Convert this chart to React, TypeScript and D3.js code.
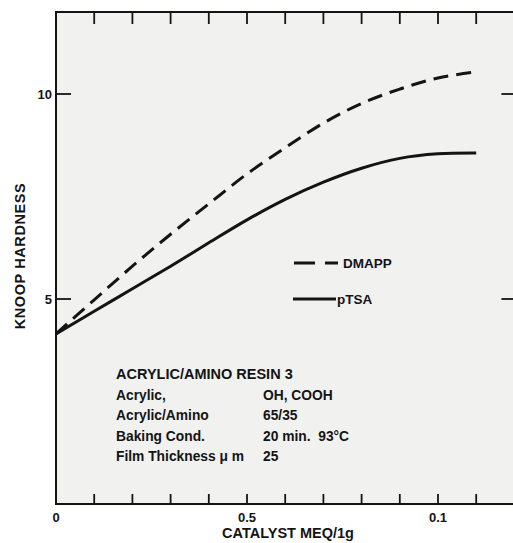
import React from "react";
import * as d3 from "d3";

// Catalyst level (MEQ/1g) and Knoop hardness for the two catalysts
const catalyst = [0, 0.01, 0.02, 0.03, 0.04, 0.05, 0.06, 0.07, 0.08, 0.09, 0.1, 0.11];
const dmapp = [4.15, 4.98, 5.8, 6.58, 7.32, 8.05, 8.69, 9.29, 9.77, 10.12, 10.39, 10.54];
const ptsa = [4.15, 4.7, 5.25, 5.8, 6.37, 6.93, 7.43, 7.85, 8.19, 8.43, 8.54, 8.56];

const xMinorTicks = [0.01, 0.02, 0.03, 0.04, 0.06, 0.07, 0.08, 0.09, 0.11];
const xLabelTicks = [0, 0.05, 0.1];
const xLabelText = ["0", "0.5", "0.1"];
const yTicks = [5, 10];

const infoLeft = ["Acrylic,", "Acrylic/Amino", "Baking Cond.", "Film Thickness \u03bc m"];
const infoRight = ["OH, COOH", "65/35", "20 min.  93\u00b0C", "25"];

const W = 513;
const H = 543;
const FONT = "'Liberation Sans', Arial, Helvetica, sans-serif";
const INK = "#141414";

export default function App() {
  const x = d3.scaleLinear().domain([0, 0.12]).range([56, 514.4]);
  const y = d3.scaleLinear().domain([0, 12]).range([504, 12]);

  const line = d3
    .line<[number, number]>()
    .x((d) => x(d[0]))
    .y((d) => y(d[1]))
    .curve(d3.curveCatmullRom.alpha(0.5));

  const dmappPath = line(catalyst.map((c, i) => [c, dmapp[i]]) as [number, number][]) || "";
  const ptsaPath = line(catalyst.map((c, i) => [c, ptsa[i]]) as [number, number][]) || "";

  const [x0, x1] = x.range();
  const [yb, yt] = y.range();
  const allXTicks = [...xMinorTicks, ...xLabelTicks.filter((t) => t > 0)];

  return (
    <svg
      width={W}
      height={H}
      style={{ position: "absolute", left: 0, top: 0, background: "#ffffff" }}
      fontFamily={FONT}
    >
      <rect x={x0} y={yt} width={x1 - x0} height={yb - yt} fill="#f1f1f0" />

      {/* ticks on all four sides, pointing inward */}
      {allXTicks.map((t) => (
        <g key={"xt" + t} stroke={INK} strokeWidth={1.8}>
          <line x1={x(t)} x2={x(t)} y1={yb} y2={yb - 10} />
          <line x1={x(t)} x2={x(t)} y1={yt} y2={yt + 12} />
        </g>
      ))}
      {yTicks.map((t) => (
        <g key={"yt" + t} stroke={INK} strokeWidth={1.8}>
          <line x1={x0} x2={x0 + 15} y1={y(t)} y2={y(t)} />
          <line x1={x1} x2={x1 - 13} y1={y(t)} y2={y(t)} />
        </g>
      ))}

      <rect x={x0} y={yt} width={x1 - x0} height={yb - yt} fill="none" stroke={INK} strokeWidth={2} />

      {/* tick labels */}
      {xLabelTicks.map((t, i) => (
        <text
          key={"xl" + t}
          x={x(t)}
          y={522}
          textAnchor="middle"
          fontSize={13}
          fontWeight="bold"
          fill={INK}
        >
          {xLabelText[i]}
        </text>
      ))}
      {yTicks.map((t) => (
        <text
          key={"yl" + t}
          x={52}
          y={y(t) + 4.6}
          textAnchor="end"
          fontSize={13}
          fontWeight="bold"
          fill={INK}
        >
          {t}
        </text>
      ))}

      {/* axis titles */}
      <text x={288} y={538} textAnchor="middle" fontSize={14.5} fontWeight="bold" fill={INK}>
        CATALYST MEQ/1g
      </text>
      <text
        transform="translate(25,256) rotate(-90)"
        textAnchor="middle"
        fontSize={14.5}
        fontWeight="bold"
        fill={INK}
        letterSpacing={0.6}
      >
        KNOOP HARDNESS
      </text>

      {/* curves */}
      <path d={dmappPath} fill="none" stroke={INK} strokeWidth={3} strokeDasharray="15 8" />
      <path d={ptsaPath} fill="none" stroke={INK} strokeWidth={3} />

      {/* legend */}
      <line x1={294} x2={338} y1={263} y2={263} stroke={INK} strokeWidth={3} strokeDasharray="21 10" />
      <text x={343} y={267.5} fontSize={13.5} fontWeight="bold" fill={INK}>
        DMAPP
      </text>
      <line x1={293} x2={336} y1={299} y2={299} stroke={INK} strokeWidth={3} />
      <text x={337} y={303.5} fontSize={13.5} fontWeight="bold" fill={INK}>
        pTSA
      </text>

      {/* resin description */}
      <text x={116} y={379} fontSize={14.5} fontWeight="bold" fill={INK}>
        ACRYLIC/AMINO RESIN 3
      </text>
      {infoLeft.map((s, i) => (
        <text key={"il" + i} x={116} y={399.5 + i * 20.5} fontSize={13.8} fontWeight="bold" fill={INK}>
          {s}
        </text>
      ))}
      {infoRight.map((s, i) => (
        <text
          key={"ir" + i}
          x={263}
          y={399.5 + i * 20.5}
          fontSize={13.8}
          fontWeight="bold"
          fill={INK}
          style={{ whiteSpace: "pre" }}
        >
          {s}
        </text>
      ))}
    </svg>
  );
}
